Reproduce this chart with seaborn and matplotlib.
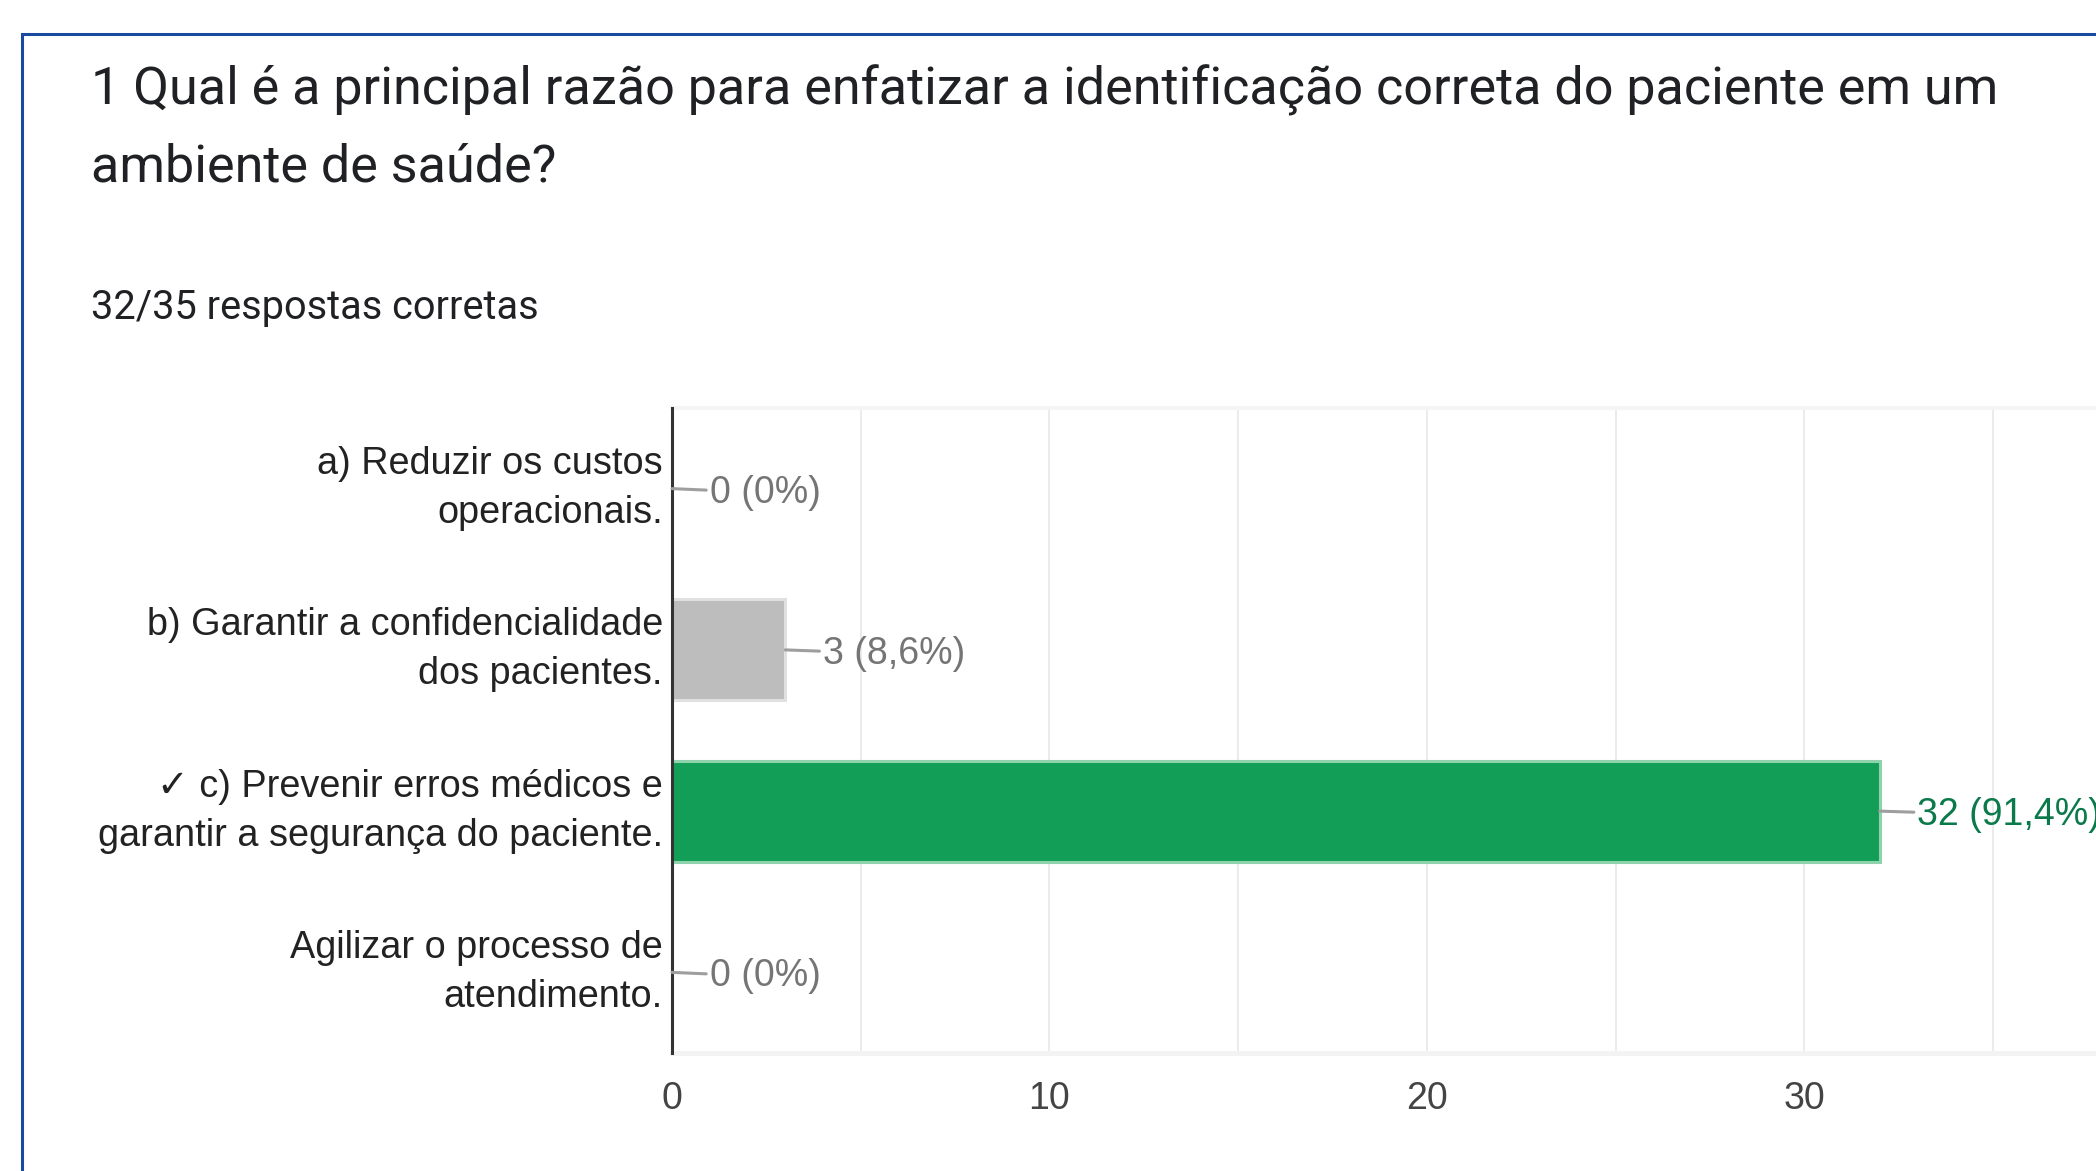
import matplotlib
matplotlib.use('Agg')
import matplotlib.pyplot as plt
import seaborn as sns
import pandas as pd
from matplotlib.patches import Rectangle

# ---- data ----
categories = [
    "a) Reduzir os custos\noperacionais.",
    "b) Garantir a confidencialidade\ndos pacientes.",
    "\u2713 c) Prevenir erros médicos e\ngarantir a segurança do paciente.",
    "Agilizar o processo de\natendimento.",
]
counts = [0, 3, 32, 0]
value_labels = ["0 (0%)", "3 (8,6%)", "32 (91,4%)", "0 (0%)"]
correct = [False, False, True, False]
title_lines = [
    "1 Qual é a principal razão para enfatizar a identificação correta do paciente em um",
    "ambiente de saúde?",
]
subtitle = "32/35 respostas corretas"
x_ticks = [0, 10, 20, 30]
x_minor_ticks = [5, 15, 25, 35]

# ---- style ----
sns.set_theme(style='white')
plt.rcParams['font.family'] = ['Liberation Sans', 'DejaVu Sans']

W, H = 2096, 1171
fig = plt.figure(figsize=(W / 100, H / 100), dpi=100)
fig.patch.set_facecolor('white')

ax_left, ax_right, ax_top, ax_bottom = 672, W, 408, 1053
ax = fig.add_axes([ax_left / W, 1 - ax_bottom / H,
                   (ax_right - ax_left) / W, (ax_bottom - ax_top) / H])

df = pd.DataFrame({'option': categories, 'count': counts})
bar_colors = ['#129e56' if c else '#bdbdbd' for c in correct]
edge_colors = ['#8fd3ae' if c else '#e0e0e0' for c in correct]
sns.barplot(data=df, x='count', y='option', hue='option', palette=bar_colors,
            legend=False, width=0.625, saturation=1, ax=ax, zorder=3)

for patch, ec, v in zip(ax.patches, edge_colors, counts):
    patch.set_edgecolor(ec)
    patch.set_linewidth(2.2 if v > 0 else 0)

px_per_unit = 37.74
ax.set_xlim(0, (ax_right - ax_left) / px_per_unit)
ax.set_ylim(len(categories) - 0.5, -0.5)

ax.set_xticks(x_ticks)
ax.set_xticklabels([str(t) for t in x_ticks])
ax.set_xticks(x_minor_ticks, minor=True)
ax.grid(axis='x', which='both', color='#ebebeb', lw=1.4)
ax.grid(axis='y', visible=False)
ax.set_axisbelow(True)
ax.set_xlabel('')
ax.set_ylabel('')

ax.tick_params(axis='x', which='both', length=0, labelsize=27, labelcolor='#444444', pad=20)
ax.tick_params(axis='y', length=0, labelsize=27.3, labelcolor='#222222', pad=6.5)
for t in ax.get_yticklabels():
    t.set_linespacing(1.47)
    t.set_multialignment('right')
    t.set_verticalalignment('center')

ax.spines['left'].set_color('#333333')
ax.spines['left'].set_linewidth(2.2)
ax.spines['bottom'].set_color('#f3f3f3')
ax.spines['bottom'].set_linewidth(3.6)
ax.spines['top'].set_color('#f5f5f5')
ax.spines['top'].set_linewidth(2.9)
ax.spines['right'].set_visible(False)
ax.spines['left'].set_zorder(5)

for i, (v, lab, c) in enumerate(zip(counts, value_labels, correct)):
    ax.annotate(lab, xy=(v, i), xytext=(27, 0), textcoords='offset points',
                ha='left', va='center_baseline', fontsize=27,
                color='#0b7a4b' if c else '#757575',
                arrowprops=dict(arrowstyle='-', color='#9e9e9e', lw=2.2,
                                shrinkA=0, shrinkB=0),
                annotation_clip=False, zorder=6)

# ---- title / subtitle ----
fig.text(91 / W, 1 - 105 / H, title_lines[0], fontsize=37.5,
         family=['Roboto', 'DejaVu Sans'], color='#202124', va='baseline', ha='left')
fig.text(91 / W, 1 - 181 / H, title_lines[1], fontsize=37.5,
         family=['Roboto', 'DejaVu Sans'], color='#202124', va='baseline', ha='left')
fig.text(91 / W, 1 - 319 / H, subtitle, fontsize=28.6,
         family=['Roboto', 'DejaVu Sans'], color='#202124', va='baseline', ha='left')

# ---- card frame ----
frame = Rectangle((21.5 / W, -0.5), 2.0, (1 - 33.5 / H) + 0.5, fill=False,
                  edgecolor='#1a4aa0', lw=2.2, transform=fig.transFigure,
                  clip_on=False)
fig.add_artist(frame)

fig.savefig('out.png', dpi=100, facecolor='white')
